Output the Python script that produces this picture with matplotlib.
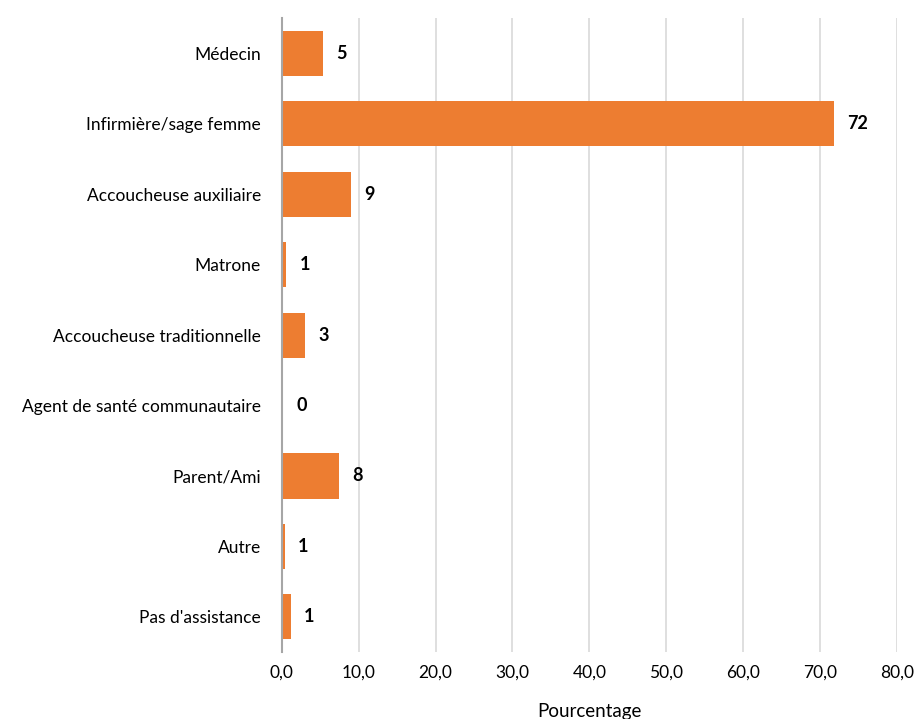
import matplotlib
matplotlib.use("Agg")
import matplotlib.pyplot as plt

# data (percent)
categories = [
    "Médecin",
    "Infirmière/sage femme",
    "Accoucheuse auxiliaire",
    "Matrone",
    "Accoucheuse traditionnelle",
    "Agent de santé communautaire",
    "Parent/Ami",
    "Autre",
    "Pas d'assistance",
]
values = [5.3, 71.8, 9.0, 0.6, 3.0, 0.2, 7.5, 0.4, 1.2]
bar_labels = ["5", "72", "9", "1", "3", "0", "8", "1", "1"]
xticks = [0, 10, 20, 30, 40, 50, 60, 70, 80]

ORANGE = "#ED7D31"
plt.rcParams["font.family"] = ["Lato", "DejaVu Sans"]

fig = plt.figure(figsize=(9.18, 7.19), dpi=100)
ax = fig.add_axes([0.307, 0.093, 0.670, 0.882])

pos = list(range(len(categories)))
ax.barh(pos, values, height=0.64, color=ORANGE, zorder=3)
for p, v, lab in zip(pos, values, bar_labels):
    ax.annotate(lab, (v, p), xytext=(9.5, 0), textcoords="offset points",
                ha="left", va="center", fontsize=13, fontweight="bold", zorder=4)

ax.set_ylim(len(categories) - 0.5, -0.5)
ax.set_xlim(0, 80)
ax.set_yticks(pos)
ax.set_yticklabels(categories, fontsize=12.5)
ax.set_xticks(xticks)
ax.set_xticklabels([f"{t:.1f}".replace(".", ",") for t in xticks], fontsize=12.5)
ax.tick_params(length=0, pad=9)
ax.tick_params(axis="y", pad=15)

ax.grid(axis="x", color="#d9d9d9", linewidth=1.2, zorder=0)
for s in ["top", "right", "bottom"]:
    ax.spines[s].set_visible(False)
ax.spines["left"].set_color("#a6a6a6")
ax.spines["left"].set_linewidth(1.5)
ax.spines["left"].set_zorder(5)

ax.set_xlabel("Pourcentage", fontsize=13.5, labelpad=16)

fig.savefig("out.png", dpi=100)
